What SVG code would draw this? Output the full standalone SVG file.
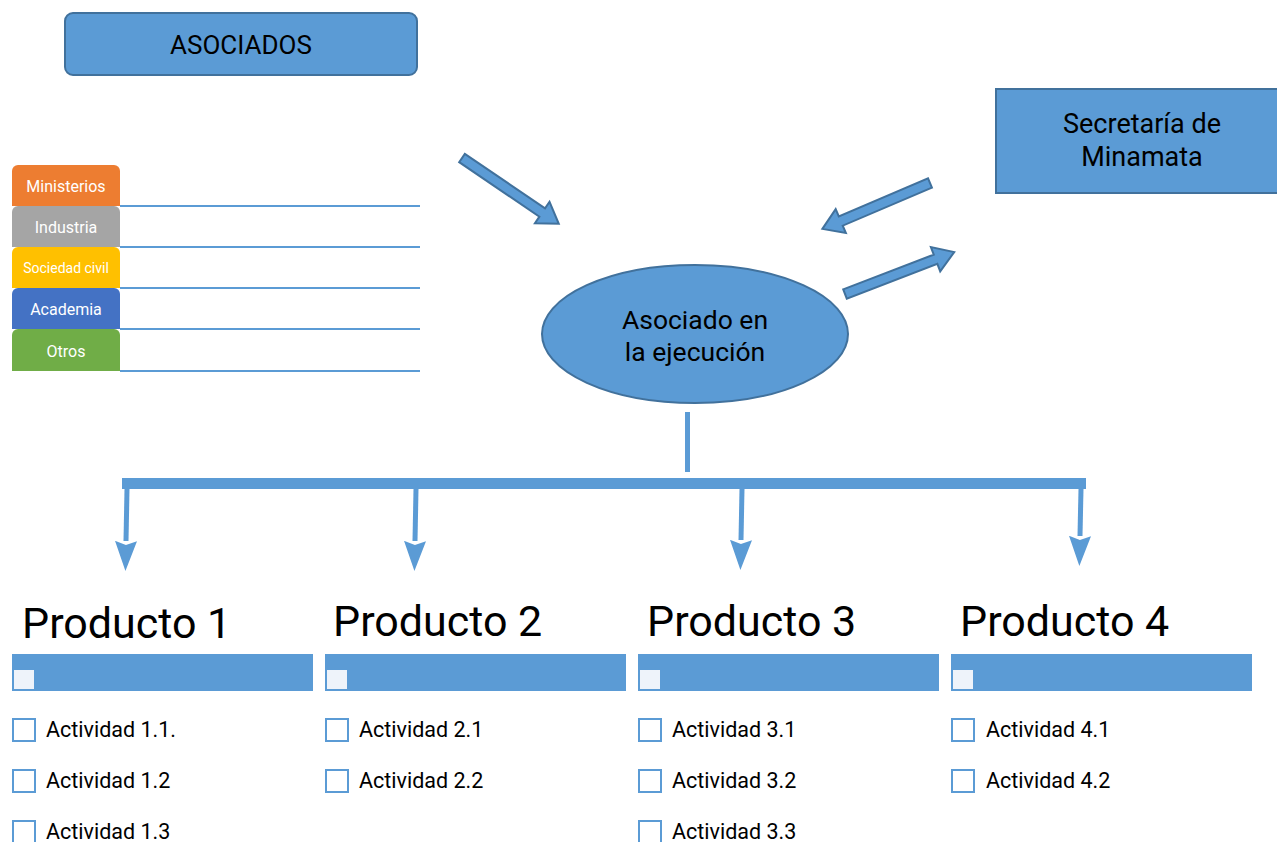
<svg xmlns="http://www.w3.org/2000/svg" width="1277" height="842" viewBox="0 0 1277 842">
  <style>
    .lbl { font-family: Roboto, "Liberation Sans", Arial, sans-serif; fill: #000; }
    .box { fill: #5B9BD5; stroke: #41719C; stroke-width: 2; }
    .blk { fill: #5B9BD5; stroke: #41719C; stroke-width: 2; stroke-linejoin: miter; }
    .tab { font-family: Roboto, "Liberation Sans", Arial, sans-serif; fill: #fff; font-size: 16px; text-anchor: middle; }
    .tab.small { font-size: 14px; }
    .rule { stroke: #5B9BD5; stroke-width: 2; }
    .drop { stroke: #5B9BD5; stroke-width: 5; fill: none; }
    .hdr { fill: #5B9BD5; }
    .tick { fill: #EEF3FA; }
    .chk { fill: #fff; stroke: #5B9BD5; stroke-width: 2; }
    .act { font-family: Roboto, "Liberation Sans", Arial, sans-serif; font-size: 21.5px; fill: #000; }
    .prod { font-family: Roboto, "Liberation Sans", Arial, sans-serif; font-size: 43px; fill: #000; }
  </style>
  <defs>
    <marker id="down" markerUnits="userSpaceOnUse" markerWidth="30" markerHeight="22" refX="0" refY="11" orient="auto" viewBox="0 0 30 22">
      <path d="M0,0 L30,11 L0,22 L4,11 Z" fill="#5B9BD5"/>
    </marker>
    <!-- block arrow, tail at origin, pointing along +x, 117 long -->
    <path id="blk117" d="M0,-5 L97,-5 L97,-13 L117,0 L97,13 L97,5 L0,5 Z"/>
  </defs>

  <rect width="1277" height="842" fill="#fff"/>

  <!-- top-level nodes -->
  <g id="asociados">
    <rect class="box" x="65" y="13" width="352" height="62" rx="8"/>
    <text class="lbl" x="241" y="54" font-size="26" text-anchor="middle">ASOCIADOS</text>
  </g>

  <g id="secretaria">
    <rect class="box" x="996" y="89" width="290" height="104"/>
    <text class="lbl" x="1142" y="133" font-size="27" text-anchor="middle">Secretaría de</text>
    <text class="lbl" x="1142" y="166" font-size="27" text-anchor="middle">Minamata</text>
  </g>

  <g id="ejecucion">
    <ellipse class="box" cx="695" cy="334" rx="153" ry="69"/>
    <text class="lbl" x="695" y="329" font-size="26.5" text-anchor="middle">Asociado en</text>
    <text class="lbl" x="695" y="361" font-size="26.5" text-anchor="middle">la ejecución</text>
  </g>

  <!-- partner categories -->
  <g id="sectores">
    <path d="M12,171 a6,6 0 0 1 6,-6 h96 a6,6 0 0 1 6,6 v35 h-108 Z" fill="#ED7D31"/>
    <text class="tab" x="66" y="192">Ministerios</text>
    <path d="M12,212 a6,6 0 0 1 6,-6 h96 a6,6 0 0 1 6,6 v35 h-108 Z" fill="#A5A5A5"/>
    <text class="tab" x="66" y="233">Industria</text>
    <path d="M12,253 a6,6 0 0 1 6,-6 h96 a6,6 0 0 1 6,6 v35 h-108 Z" fill="#FFC000"/>
    <text class="tab small" x="66" y="273">Sociedad civil</text>
    <path d="M12,294 a6,6 0 0 1 6,-6 h96 a6,6 0 0 1 6,6 v35 h-108 Z" fill="#4472C4"/>
    <text class="tab" x="66" y="315">Academia</text>
    <path d="M12,335 a6,6 0 0 1 6,-6 h96 a6,6 0 0 1 6,6 v36 h-108 Z" fill="#70AD47"/>
    <text class="tab" x="66" y="357">Otros</text>
    <line class="rule" x1="120" y1="206" x2="420" y2="206"/>
    <line class="rule" x1="120" y1="247" x2="420" y2="247"/>
    <line class="rule" x1="120" y1="288" x2="420" y2="288"/>
    <line class="rule" x1="120" y1="329" x2="420" y2="329"/>
    <line class="rule" x1="120" y1="371" x2="420" y2="371"/>
  </g>

  <!-- connectors -->
  <g id="conectores">
    <use href="#blk117" class="blk" transform="translate(462,158) rotate(34.2)"/>
    <use href="#blk117" class="blk" transform="translate(930,183) rotate(156.9)"/>
    <use href="#blk117" class="blk" transform="translate(845,294) rotate(-21)"/>

    <line x1="687.5" y1="412" x2="687.5" y2="472" stroke="#5B9BD5" stroke-width="5"/>
    <rect x="122" y="478" width="964" height="11" fill="#5B9BD5"/>
    <line class="drop" x1="127" y1="489" x2="126" y2="541" marker-end="url(#down)"/>
    <line class="drop" x1="416" y1="489" x2="415" y2="541" marker-end="url(#down)"/>
    <line class="drop" x1="742" y1="489" x2="741" y2="540" marker-end="url(#down)"/>
    <line class="drop" x1="1081" y1="489" x2="1080" y2="536" marker-end="url(#down)"/>
  </g>

  <!-- product columns -->
  <g id="producto1">
    <text class="prod" x="22" y="638">Producto 1</text>
    <rect class="hdr" x="12" y="654" width="301" height="37"/>
    <rect class="tick" x="14" y="670" width="20" height="19"/>
    <rect class="chk" x="13" y="719" width="22" height="22"/>
    <text class="act" x="46" y="737">Actividad 1.1.</text>
    <rect class="chk" x="13" y="770" width="22" height="22"/>
    <text class="act" x="46" y="788">Actividad 1.2</text>
    <rect class="chk" x="13" y="821" width="22" height="22"/>
    <text class="act" x="46" y="839">Actividad 1.3</text>
  </g>

  <g id="producto2">
    <text class="prod" x="333" y="636">Producto 2</text>
    <rect class="hdr" x="325" y="654" width="301" height="37"/>
    <rect class="tick" x="327" y="670" width="20" height="19"/>
    <rect class="chk" x="326" y="719" width="22" height="22"/>
    <text class="act" x="359" y="737">Actividad 2.1</text>
    <rect class="chk" x="326" y="770" width="22" height="22"/>
    <text class="act" x="359" y="788">Actividad 2.2</text>
  </g>

  <g id="producto3">
    <text class="prod" x="647" y="636">Producto 3</text>
    <rect class="hdr" x="638" y="654" width="301" height="37"/>
    <rect class="tick" x="640" y="670" width="20" height="19"/>
    <rect class="chk" x="639" y="719" width="22" height="22"/>
    <text class="act" x="672" y="737">Actividad 3.1</text>
    <rect class="chk" x="639" y="770" width="22" height="22"/>
    <text class="act" x="672" y="788">Actividad 3.2</text>
    <rect class="chk" x="639" y="821" width="22" height="22"/>
    <text class="act" x="672" y="839">Actividad 3.3</text>
  </g>

  <g id="producto4">
    <text class="prod" x="960" y="636">Producto 4</text>
    <rect class="hdr" x="951" y="654" width="301" height="37"/>
    <rect class="tick" x="953" y="670" width="20" height="19"/>
    <rect class="chk" x="952" y="719" width="22" height="22"/>
    <text class="act" x="986" y="737">Actividad 4.1</text>
    <rect class="chk" x="952" y="770" width="22" height="22"/>
    <text class="act" x="986" y="788">Actividad 4.2</text>
  </g>
</svg>
